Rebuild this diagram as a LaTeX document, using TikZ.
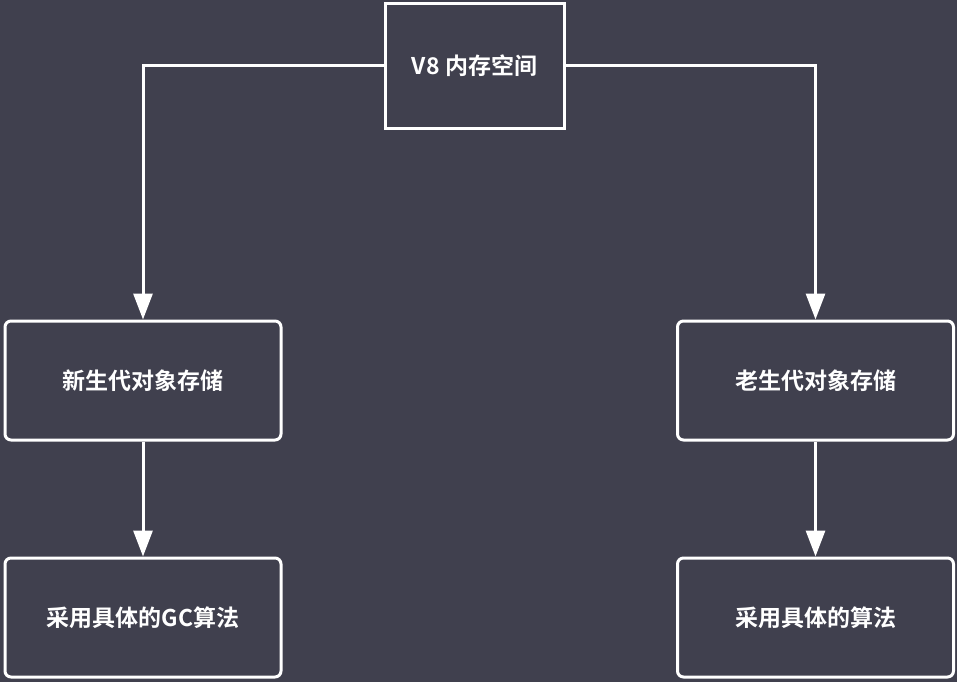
\documentclass[tikz,border=0pt]{standalone}
\usepackage{fontspec}
\newfontfamily\cjk{Noto Sans CJK SC}[BoldFont={Noto Sans CJK SC Bold}]
\usetikzlibrary{arrows.meta}
\definecolor{bg}{RGB}{64,64,78}
\tikzset{
  box/.style={draw=white, line width=3pt, fill=bg, text=white, inner sep=0pt,
    minimum width=276pt, minimum height=119pt, rounded corners=6pt,
    font=\cjk\bfseries\fontsize{23}{27}\selectfont},
  topbox/.style={box, rounded corners=0pt, minimum width=179pt, minimum height=124pt},
  conn/.style={draw=white, line width=3pt, -{Triangle[length=26pt,width=19pt]}}
}
\begin{document}
\begin{tikzpicture}[x=1pt,y=-1pt]
\fill[bg] (0,0) rectangle (957,682);
\useasboundingbox (0,0) rectangle (957,682);
\node[topbox] (top) at (474.5,66) {V8 内存空间};
\node[box] (young) at (143,380.5) {新生代对象存储};
\node[box] (old) at (815.5,380.5) {老生代对象存储};
\node[box] (ygc) at (143,617.5) {采用具体的GC算法};
\node[box] (ogc) at (815.5,617.5) {采用具体的算法};
\draw[conn] (top.west) -| (young.north);
\draw[conn] (top.east) -| (old.north);
\draw[conn] (young.south) -- (ygc.north);
\draw[conn] (old.south) -- (ogc.north);
\end{tikzpicture}
\end{document}
